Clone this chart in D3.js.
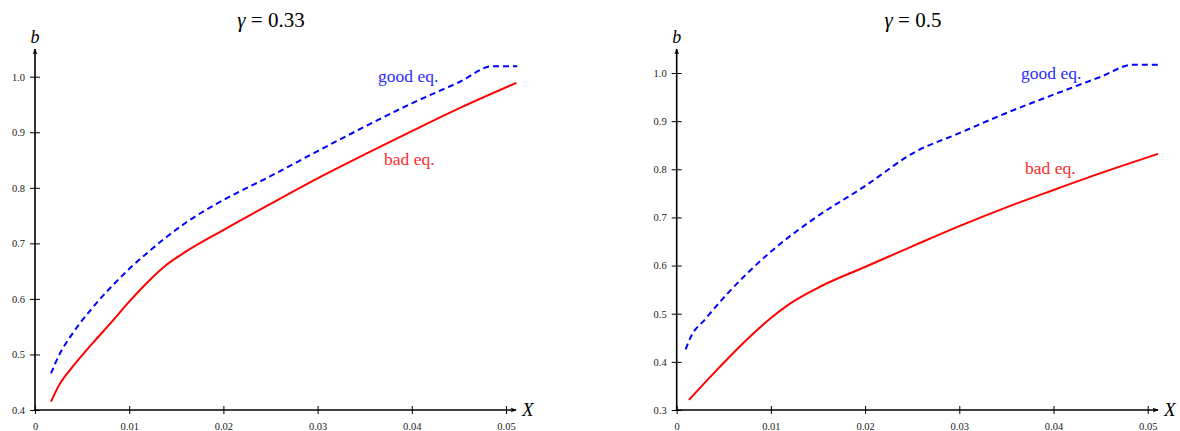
<!DOCTYPE html>
<html>
<head>
<meta charset="utf-8">
<script src="https://cdn.jsdelivr.net/npm/d3@7.9.0/dist/d3.min.js"></script>
<style>
  html, body { margin: 0; padding: 0; background: #fff; }
  svg { display: block; font-family: "Liberation Serif", "DejaVu Serif", serif; }
  .tick text { font-size: 10.5px; fill: #222; }
</style>
</head>
<body>
<svg id="chart" width="1180" height="431"></svg>
<script>
// gamma = 0.33 panel
const goodX033 = [0.0017, 0.0025, 0.004, 0.006, 0.008, 0.010, 0.012, 0.014, 0.016, 0.020, 0.025, 0.030, 0.035, 0.040, 0.045, 0.0486, 0.0512];
const goodB033 = [0.466, 0.497, 0.538, 0.582, 0.620, 0.654, 0.684, 0.712, 0.737, 0.778, 0.821, 0.866, 0.910, 0.952, 0.990, 1.019, 1.019];
const badX033  = [0.0017, 0.0025, 0.004, 0.006, 0.008, 0.010, 0.012, 0.014, 0.016, 0.020, 0.025, 0.030, 0.035, 0.040, 0.045, 0.0511];
const badB033  = [0.415, 0.443, 0.478, 0.518, 0.556, 0.595, 0.631, 0.662, 0.685, 0.724, 0.771, 0.817, 0.860, 0.902, 0.943, 0.989];

// gamma = 0.5 panel
const goodX05 = [0.00095, 0.0015, 0.0030, 0.0053, 0.0076, 0.0100, 0.0144, 0.0199, 0.0254, 0.030, 0.035, 0.040, 0.045, 0.0484, 0.0511];
const goodB05 = [0.426, 0.452, 0.488, 0.540, 0.586, 0.629, 0.695, 0.764, 0.837, 0.875, 0.917, 0.955, 0.992, 1.017, 1.017];
const badX05  = [0.0013, 0.0046, 0.0076, 0.0100, 0.0121, 0.0152, 0.0201, 0.025, 0.030, 0.035, 0.040, 0.045, 0.0511];
const badB05  = [0.321, 0.390, 0.449, 0.491, 0.522, 0.556, 0.598, 0.640, 0.682, 0.721, 0.757, 0.792, 0.832];

// tick labels
const xTicks = [0, 0.01, 0.02, 0.03, 0.04, 0.05];
const yTicks033 = [0.4, 0.5, 0.6, 0.7, 0.8, 0.9, 1.0];
const yTicks05 = [0.3, 0.4, 0.5, 0.6, 0.7, 0.8, 0.9, 1.0];

const svg = d3.select('#chart');

// arrow head used by both axes
svg.append('defs').append('marker')
  .attr('id', 'arrow')
  .attr('viewBox', '0 0 10 10')
  .attr('refX', 9).attr('refY', 5)
  .attr('markerWidth', 6).attr('markerHeight', 6)
  .attr('markerUnits', 'userSpaceOnUse')
  .attr('orient', 'auto')
  .append('path')
  .attr('d', 'M0,1 L10,5 L0,9 L2.5,5 Z')
  .attr('fill', '#000');

const panels = [
  {
    gamma: '0.33', titleX: 271,
    good: [goodX033, goodB033], bad: [badX033, badB033],
    yTicks: yTicks033, yDomain: [0.4, 1.0],
    xRange: [35, 506], yRange: [410, 76.7], xEnd: 516, yEnd: 49,
    goodLabel: [378, 82], badLabel: [384, 165]
  },
  {
    gamma: '0.5', titleX: 913,
    good: [goodX05, goodB05], bad: [badX05, badB05],
    yTicks: yTicks05, yDomain: [0.3, 1.0],
    xRange: [676.7, 1147.7], yRange: [410, 73], xEnd: 1158, yEnd: 49,
    goodLabel: [1021, 79], badLabel: [1025, 174]
  }
];

panels.forEach((p) => {
  const x = d3.scaleLinear().domain([0, 0.05]).range(p.xRange);
  const y = d3.scaleLinear().domain(p.yDomain).range(p.yRange);
  const x0 = x(0), y0 = y(p.yDomain[0]);
  const g = svg.append('g');

  // x axis: ticks cross the line, labels below
  const xAxis = g.append('g')
    .attr('transform', `translate(0,${y0})`)
    .call(d3.axisBottom(x).tickValues(xTicks).tickSize(4).tickPadding(9)
      .tickFormat((d) => d === 0 ? '0' : d3.format('.2f')(d)));
  xAxis.attr('font-family', null).attr('font-size', null);
  xAxis.select('.domain').remove();
  xAxis.selectAll('.tick line').attr('y1', -4).attr('y2', 4).attr('stroke', '#000');

  // y axis
  const yAxis = g.append('g')
    .attr('transform', `translate(${x0},0)`)
    .call(d3.axisLeft(y).tickValues(p.yTicks).tickSize(5).tickPadding(5)
      .tickFormat(d3.format('.1f')));
  yAxis.attr('font-family', null).attr('font-size', null);
  yAxis.select('.domain').remove();
  yAxis.selectAll('.tick line').attr('x1', -5).attr('x2', 5).attr('stroke', '#000');

  // axis lines with arrows
  g.append('line')
    .attr('x1', x0 - 1).attr('y1', y0).attr('x2', p.xEnd).attr('y2', y0)
    .attr('stroke', '#000').attr('stroke-width', 1.6)
    .attr('marker-end', 'url(#arrow)');
  g.append('line')
    .attr('x1', x0).attr('y1', y0 + 1).attr('x2', x0).attr('y2', p.yEnd)
    .attr('stroke', '#000').attr('stroke-width', 1.6)
    .attr('marker-end', 'url(#arrow)');

  // axis names
  g.append('text')
    .attr('x', x0).attr('y', 43)
    .attr('text-anchor', 'middle')
    .attr('font-style', 'italic').attr('font-size', 18)
    .text('b');
  g.append('text')
    .attr('x', p.xEnd + 6).attr('y', y0 + 6)
    .attr('font-style', 'italic').attr('font-size', 19)
    .text('X');

  // title
  const title = g.append('text')
    .attr('x', p.titleX).attr('y', 27)
    .attr('text-anchor', 'middle').attr('font-size', 21);
  title.append('tspan').attr('font-style', 'italic').text('γ');
  title.append('tspan').text(` = ${p.gamma}`);

  // curves
  const line = d3.line()
    .x((d) => x(d[0]))
    .y((d) => y(d[1]))
    .curve(d3.curveMonotoneX);

  const goodPts = d3.zip(p.good[0], p.good[1]);
  const badPts = d3.zip(p.bad[0], p.bad[1]);

  g.append('path')
    .attr('d', line(badPts))
    .attr('fill', 'none').attr('stroke', '#ff0000').attr('stroke-width', 2);
  g.append('path')
    .attr('d', line(goodPts))
    .attr('fill', 'none').attr('stroke', '#0000ff').attr('stroke-width', 2)
    .attr('stroke-dasharray', '6,4');

  // curve labels
  g.append('text')
    .attr('x', p.goodLabel[0]).attr('y', p.goodLabel[1])
    .attr('fill', '#2b2bff').attr('font-size', 17.5)
    .text('good eq.');
  g.append('text')
    .attr('x', p.badLabel[0]).attr('y', p.badLabel[1])
    .attr('fill', '#ff2b2b').attr('font-size', 17.5)
    .text('bad eq.');
});
</script>
</body>
</html>
